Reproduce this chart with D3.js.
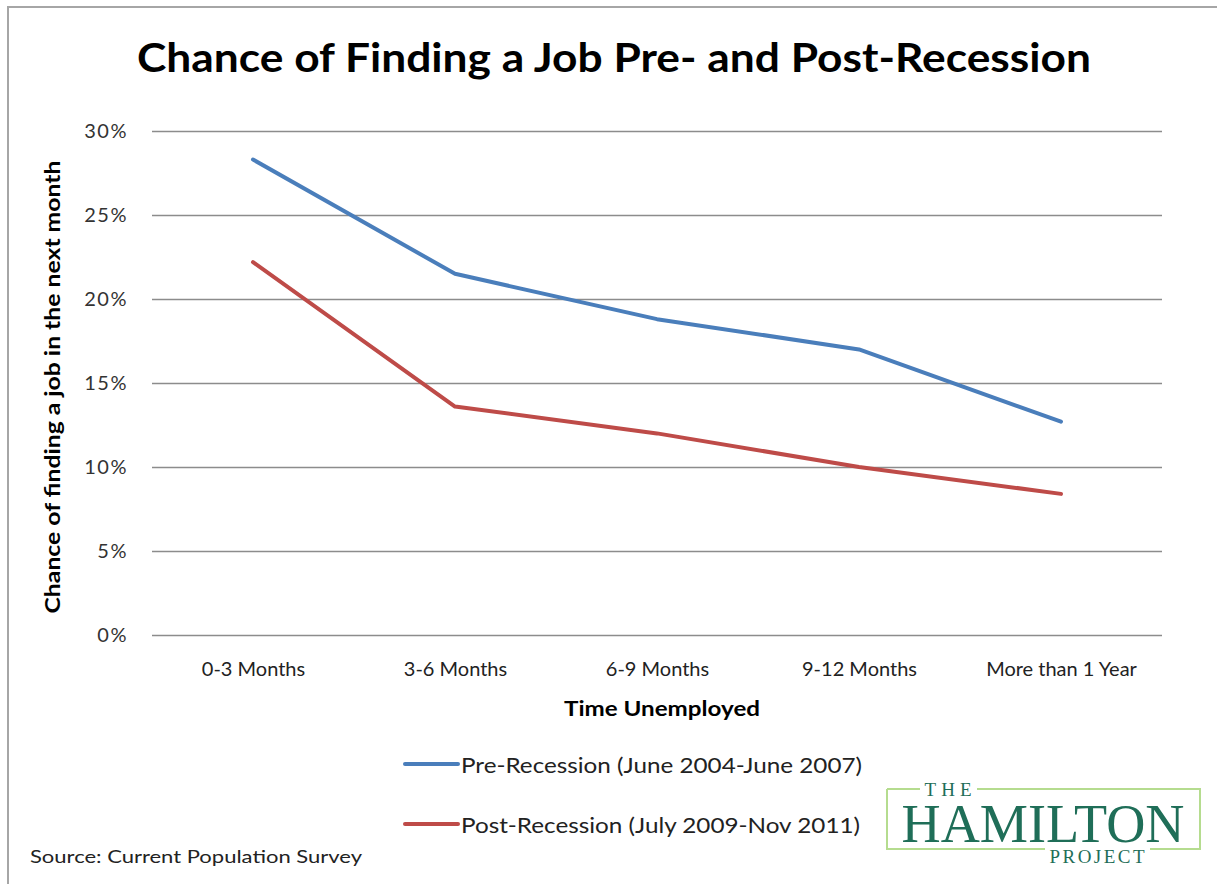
<!DOCTYPE html>
<html lang="en">
<head>
    <meta charset="utf-8">
    <title>Chance of Finding a Job Pre- and Post-Recession</title>
    <script src="https://d3js.org/d3.v7.min.js"></script>
    <style>
        body { margin: 0; background: #fff; }
        text { font-family: Lato, "Open Sans", sans-serif; }
    </style>
</head>
<body>
<div id="chart-container"></div>
<script>
    // Data
    const categories = ["0-3 Months", "3-6 Months", "6-9 Months", "9-12 Months", "More than 1 Year"];
    const preRecession = [28.3, 21.5, 18.8, 17.0, 12.7];
    const postRecession = [22.2, 13.6, 12.0, 10.0, 8.4];
    const yTicks = [0, 5, 10, 15, 20, 25, 30];
    const seriesNames = ["Pre-Recession (June 2004-June 2007)", "Post-Recession (July 2009-Nov 2011)"];

    const width = 1217;
    const height = 884;
    const margin = { top: 131, right: 55, bottom: 249, left: 152 };
    const innerW = width - margin.left - margin.right;
    const innerH = height - margin.top - margin.bottom;

    const svg = d3.select("#chart-container")
        .append("svg")
        .attr("width", width)
        .attr("height", height);

    // outer frame (top and left edges only visible)
    svg.append("line").attr("x1", 8).attr("x2", width).attr("y1", 7).attr("y2", 7)
        .attr("stroke", "#a6a6a6").attr("stroke-width", 2);
    svg.append("line").attr("x1", 8).attr("x2", 8).attr("y1", 6).attr("y2", height)
        .attr("stroke", "#a6a6a6").attr("stroke-width", 2);

    // title
    svg.append("text")
        .attr("x", 614)
        .attr("y", 72)
        .attr("text-anchor", "middle")
        .style("font-size", "40px")
        .style("font-weight", "bold")
        .attr("textLength", 954)
        .attr("lengthAdjust", "spacingAndGlyphs")
        .text("Chance of Finding a Job Pre- and Post-Recession");

    const g = svg.append("g")
        .attr("transform", `translate(${margin.left},${margin.top})`);

    const x = d3.scalePoint()
        .domain(categories)
        .range([0, innerW])
        .padding(0.5);

    const y = d3.scaleLinear()
        .domain([0, 30])
        .range([innerH, 0]);

    // gridlines + y labels
    const yAxis = g.append("g")
        .call(d3.axisLeft(y).tickValues(yTicks).tickFormat(d => d + "%").tickSize(-innerW).tickPadding(24));
    yAxis.select(".domain").remove();
    yAxis.selectAll(".tick line").attr("stroke", "#8c8c8c").attr("stroke-width", 1.5);
    yAxis.selectAll(".tick text")
        .style("font-size", "20px")
        .style("font-family", "Lato, sans-serif")
        .style("letter-spacing", "1.5px")
        .attr("fill", "#333");

    // x labels
    const xAxis = g.append("g")
        .attr("transform", `translate(0,${innerH})`)
        .call(d3.axisBottom(x).tickSize(0).tickPadding(27));
    xAxis.select(".domain").remove();
    xAxis.selectAll(".tick text")
        .style("font-size", "20px")
        .style("font-family", "Lato, sans-serif")
        .attr("fill", "#222");

    // axis titles
    svg.append("text")
        .attr("x", 662)
        .attr("y", 716)
        .attr("text-anchor", "middle")
        .style("font-size", "21px")
        .style("font-weight", "bold")
        .attr("textLength", 196)
        .attr("lengthAdjust", "spacingAndGlyphs")
        .text("Time Unemployed");

    svg.append("text")
        .attr("transform", "translate(60,387) rotate(-90)")
        .attr("text-anchor", "middle")
        .style("font-size", "21px")
        .style("font-weight", "bold")
        .attr("textLength", 453)
        .attr("lengthAdjust", "spacingAndGlyphs")
        .text("Chance of finding a job in the next month");

    // lines
    const line = d3.line()
        .x((d, i) => x(categories[i]))
        .y(d => y(d));

    const series = [
        { values: preRecession, color: "#4a7ebb" },
        { values: postRecession, color: "#be4b48" }
    ];

    series.forEach(s => {
        g.append("path")
            .datum(s.values)
            .attr("fill", "none")
            .attr("stroke", s.color)
            .attr("stroke-width", 4)
            .attr("stroke-linejoin", "round")
            .attr("stroke-linecap", "round")
            .attr("d", line);
    });

    // legend
    const legend = svg.append("g")
        .attr("transform", "translate(405,764)");
    series.forEach((s, i) => {
        legend.append("line")
            .attr("x1", 0).attr("x2", 53)
            .attr("y1", i * 60).attr("y2", i * 60)
            .attr("stroke", s.color)
            .attr("stroke-width", 4)
            .attr("stroke-linecap", "round");
        legend.append("text")
            .attr("x", 56)
            .attr("y", i * 60 + 9)
            .style("font-size", "21px")
            .attr("fill", "#222")
            .attr("textLength", i === 0 ? 401 : 399)
            .attr("lengthAdjust", "spacingAndGlyphs")
            .text(seriesNames[i]);
    });

    // source note
    svg.append("text")
        .attr("x", 30)
        .attr("y", 863)
        .style("font-size", "17px")
        .attr("fill", "#222")
        .attr("textLength", 332)
        .attr("lengthAdjust", "spacingAndGlyphs")
        .text("Source: Current Population Survey");

    // Hamilton Project logo
    const logo = svg.append("g").attr("transform", "translate(887,789)");
    const logoGreen = "#1f6e58";
    const frame = "#b5dc8f";
    logo.append("path")
        .attr("d", "M0,0 H33 M90,0 H313 V60 H263 M158,60 H0 V0")
        .attr("fill", "none")
        .attr("stroke", frame)
        .attr("stroke-width", 2);
    logo.append("text")
        .attr("x", 61).attr("y", 7)
        .attr("text-anchor", "middle")
        .style("font-family", "'Liberation Serif', serif")
        .style("font-size", "19px")
        .attr("fill", logoGreen)
        .attr("textLength", 47)
        .text("THE");
    logo.append("text")
        .attr("x", 156).attr("y", 53)
        .attr("text-anchor", "middle")
        .style("font-family", "'Liberation Serif', serif")
        .style("font-size", "55px")
        .attr("fill", logoGreen)
        .attr("textLength", 283)
        .attr("lengthAdjust", "spacingAndGlyphs")
        .text("HAMILTON");
    logo.append("text")
        .attr("x", 210).attr("y", 74)
        .attr("text-anchor", "middle")
        .style("font-family", "'Liberation Serif', serif")
        .style("font-size", "19px")
        .attr("fill", logoGreen)
        .attr("textLength", 95)
        .text("PROJECT");
</script>
</body>
</html>
